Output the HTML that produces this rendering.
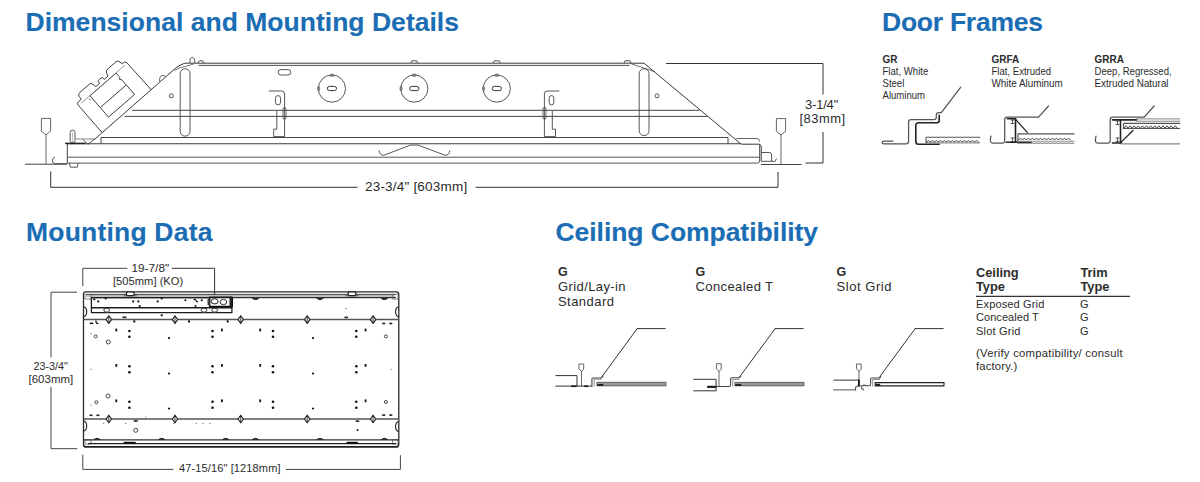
<!DOCTYPE html>
<html><head><meta charset="utf-8"><style>
html,body{margin:0;padding:0;background:#fff;width:1200px;height:482px;overflow:hidden}
svg{display:block}
</style></head><body>
<svg width="1200" height="482" viewBox="0 0 1200 482">
<text x="25.5" y="30.5" font-family="&quot;Liberation Sans&quot;, sans-serif" font-weight="bold" font-size="26.5" fill="#1b6db4" stroke="#1b6db4" stroke-width="0.12" letter-spacing="0.02">Dimensional and Mounting Details</text>
<text x="882" y="30.6" font-family="&quot;Liberation Sans&quot;, sans-serif" font-weight="bold" font-size="26.5" fill="#1b6db4" stroke="#1b6db4" stroke-width="0.12" letter-spacing="-0.25">Door Frames</text>
<text x="26" y="241" font-family="&quot;Liberation Sans&quot;, sans-serif" font-weight="bold" font-size="26.5" fill="#1b6db4" stroke="#1b6db4" stroke-width="0.12" letter-spacing="0.2">Mounting Data</text>
<text x="555.5" y="240.9" font-family="&quot;Liberation Sans&quot;, sans-serif" font-weight="bold" font-size="26.5" fill="#1b6db4" stroke="#1b6db4" stroke-width="0.12" letter-spacing="-0.05">Ceiling Compatibility</text>
<text x="882.5" y="62.8" font-family="&quot;Liberation Sans&quot;, sans-serif" font-weight="bold" font-size="10" fill="#2b2b2b" letter-spacing="0" text-anchor="start">GR</text>
<text transform="translate(882.5,74.5) scale(0.93,1)" font-family="&quot;Liberation Sans&quot;, sans-serif" font-weight="normal" font-size="10.3" fill="#2b2b2b" letter-spacing="0" text-anchor="start">Flat, White</text>
<text transform="translate(882.5,86.6) scale(0.93,1)" font-family="&quot;Liberation Sans&quot;, sans-serif" font-weight="normal" font-size="10.3" fill="#2b2b2b" letter-spacing="0" text-anchor="start">Steel</text>
<text transform="translate(882.5,98.5) scale(0.93,1)" font-family="&quot;Liberation Sans&quot;, sans-serif" font-weight="normal" font-size="10.3" fill="#2b2b2b" letter-spacing="0" text-anchor="start">Aluminum</text>
<text x="991.5" y="62.8" font-family="&quot;Liberation Sans&quot;, sans-serif" font-weight="bold" font-size="10" fill="#2b2b2b" letter-spacing="0" text-anchor="start">GRFA</text>
<text transform="translate(991.5,74.6) scale(0.93,1)" font-family="&quot;Liberation Sans&quot;, sans-serif" font-weight="normal" font-size="10.3" fill="#2b2b2b" letter-spacing="0" text-anchor="start">Flat, Extruded</text>
<text transform="translate(991.5,86.8) scale(0.96,1)" font-family="&quot;Liberation Sans&quot;, sans-serif" font-weight="normal" font-size="10.3" fill="#2b2b2b" letter-spacing="0" text-anchor="start">White Aluminum</text>
<text x="1094.5" y="62.8" font-family="&quot;Liberation Sans&quot;, sans-serif" font-weight="bold" font-size="10" fill="#2b2b2b" letter-spacing="0" text-anchor="start">GRRA</text>
<text transform="translate(1094.5,74.6) scale(0.93,1)" font-family="&quot;Liberation Sans&quot;, sans-serif" font-weight="normal" font-size="10.3" fill="#2b2b2b" letter-spacing="0" text-anchor="start">Deep, Regressed,</text>
<text transform="translate(1094.5,86.8) scale(0.96,1)" font-family="&quot;Liberation Sans&quot;, sans-serif" font-weight="normal" font-size="10.3" fill="#2b2b2b" letter-spacing="0" text-anchor="start">Extruded Natural</text>
<text x="558" y="275.6" font-family="&quot;Liberation Sans&quot;, sans-serif" font-weight="bold" font-size="12.5" fill="#2b2b2b" letter-spacing="0" text-anchor="start">G</text>
<text x="558" y="290.7" font-family="&quot;Liberation Sans&quot;, sans-serif" font-weight="normal" font-size="13" fill="#2b2b2b" letter-spacing="0.4" text-anchor="start">Grid/Lay-in</text>
<text x="558" y="306" font-family="&quot;Liberation Sans&quot;, sans-serif" font-weight="normal" font-size="13" fill="#2b2b2b" letter-spacing="0.45" text-anchor="start">Standard</text>
<text x="695.5" y="275.6" font-family="&quot;Liberation Sans&quot;, sans-serif" font-weight="bold" font-size="12.5" fill="#2b2b2b" letter-spacing="0" text-anchor="start">G</text>
<text x="695.5" y="290.7" font-family="&quot;Liberation Sans&quot;, sans-serif" font-weight="normal" font-size="13" fill="#2b2b2b" letter-spacing="0.4" text-anchor="start">Concealed T</text>
<text x="836.5" y="275.6" font-family="&quot;Liberation Sans&quot;, sans-serif" font-weight="bold" font-size="12.5" fill="#2b2b2b" letter-spacing="0" text-anchor="start">G</text>
<text x="836.5" y="290.7" font-family="&quot;Liberation Sans&quot;, sans-serif" font-weight="normal" font-size="13" fill="#2b2b2b" letter-spacing="0.55" text-anchor="start">Slot Grid</text>
<text x="976" y="276.6" font-family="&quot;Liberation Sans&quot;, sans-serif" font-weight="bold" font-size="12.8" fill="#2b2b2b" letter-spacing="0" text-anchor="start">Ceiling</text>
<text x="976" y="291" font-family="&quot;Liberation Sans&quot;, sans-serif" font-weight="bold" font-size="12.8" fill="#2b2b2b" letter-spacing="0" text-anchor="start">Type</text>
<text x="1080.5" y="276.6" font-family="&quot;Liberation Sans&quot;, sans-serif" font-weight="bold" font-size="12.8" fill="#2b2b2b" letter-spacing="0" text-anchor="start">Trim</text>
<text x="1080.5" y="291" font-family="&quot;Liberation Sans&quot;, sans-serif" font-weight="bold" font-size="12.8" fill="#2b2b2b" letter-spacing="0" text-anchor="start">Type</text>
<line x1="976" y1="296.3" x2="1130" y2="296.3" stroke="#333" stroke-width="1.3"/>
<text x="976" y="308.1" font-family="&quot;Liberation Sans&quot;, sans-serif" font-weight="normal" font-size="11" fill="#2b2b2b" letter-spacing="0.15" text-anchor="start">Exposed Grid</text>
<text x="976" y="321.4" font-family="&quot;Liberation Sans&quot;, sans-serif" font-weight="normal" font-size="11" fill="#2b2b2b" letter-spacing="0.05" text-anchor="start">Concealed T</text>
<text x="976" y="334.5" font-family="&quot;Liberation Sans&quot;, sans-serif" font-weight="normal" font-size="11" fill="#2b2b2b" letter-spacing="0.2" text-anchor="start">Slot Grid</text>
<text x="1080" y="308.1" font-family="&quot;Liberation Sans&quot;, sans-serif" font-weight="normal" font-size="11" fill="#2b2b2b" letter-spacing="0" text-anchor="start">G</text>
<text x="1080" y="321.4" font-family="&quot;Liberation Sans&quot;, sans-serif" font-weight="normal" font-size="11" fill="#2b2b2b" letter-spacing="0" text-anchor="start">G</text>
<text x="1080" y="334.5" font-family="&quot;Liberation Sans&quot;, sans-serif" font-weight="normal" font-size="11" fill="#2b2b2b" letter-spacing="0" text-anchor="start">G</text>
<text x="976" y="357" font-family="&quot;Liberation Sans&quot;, sans-serif" font-weight="normal" font-size="11.3" fill="#2b2b2b" letter-spacing="0.25" text-anchor="start">(Verify compatibility/ consult</text>
<text x="976" y="370.2" font-family="&quot;Liberation Sans&quot;, sans-serif" font-weight="normal" font-size="11.3" fill="#2b2b2b" letter-spacing="0.15" text-anchor="start">factory.)</text>
<text x="805" y="109.3" font-family="&quot;Liberation Sans&quot;, sans-serif" font-weight="normal" font-size="13" fill="#2b2b2b" letter-spacing="-0.2" text-anchor="start">3-1/4"</text>
<text x="799.5" y="123.3" font-family="&quot;Liberation Sans&quot;, sans-serif" font-weight="normal" font-size="13" fill="#2b2b2b" letter-spacing="0.45" text-anchor="start">[83mm]</text>
<text x="365" y="191" font-family="&quot;Liberation Sans&quot;, sans-serif" font-weight="normal" font-size="13.5" fill="#2b2b2b" letter-spacing="0.2" text-anchor="start">23-3/4" [603mm]</text>
<text x="131.5" y="272.1" font-family="&quot;Liberation Sans&quot;, sans-serif" font-weight="normal" font-size="11.8" fill="#2b2b2b" letter-spacing="0" text-anchor="start">19-7/8"</text>
<text x="113" y="285.4" font-family="&quot;Liberation Sans&quot;, sans-serif" font-weight="normal" font-size="11.2" fill="#2b2b2b" letter-spacing="0" text-anchor="start">[505mm] (KO)</text>
<text x="33.5" y="370.2" font-family="&quot;Liberation Sans&quot;, sans-serif" font-weight="normal" font-size="10.8" fill="#2b2b2b" letter-spacing="0" text-anchor="start">23-3/4"</text>
<text x="28.5" y="382.5" font-family="&quot;Liberation Sans&quot;, sans-serif" font-weight="normal" font-size="11.5" fill="#2b2b2b" letter-spacing="0" text-anchor="start">[603mm]</text>
<text x="179" y="472" font-family="&quot;Liberation Sans&quot;, sans-serif" font-weight="normal" font-size="11" fill="#2b2b2b" letter-spacing="0.13" text-anchor="start">47-15/16" [1218mm]</text>
<g stroke-linecap="butt" stroke-linejoin="round">
<line x1="25" y1="164.2" x2="67" y2="164.2" stroke="#444" stroke-width="1" />
<line x1="761" y1="164.5" x2="801.5" y2="164.5" stroke="#444" stroke-width="1" />
<path d="M41.4,118.4 H50.6 V131.20000000000002 L46,134.8 L41.4,131.20000000000002 Z" stroke="#555" stroke-width="0.9" fill="none" />
<line x1="46" y1="134.8" x2="46" y2="164" stroke="#555" stroke-width="0.9" />
<path d="M776.4,118.6 H785.6 V131.3 L781,134.9 L776.4,131.3 Z" stroke="#555" stroke-width="0.9" fill="none" />
<line x1="781" y1="134.9" x2="781" y2="164.5" stroke="#555" stroke-width="0.9" />
<path d="M67,163.6 H55 Q52,163.6 52.5,160 Q53,157.5 55,157" stroke="#444" stroke-width="0.9" fill="none" />
<path d="M761.2,161.3 H775 L776.5,158.5" stroke="#444" stroke-width="0.9" fill="none" />
<path d="M50.7,171.5 V187.3 H357.5" stroke="#333" stroke-width="1" fill="none" />
<path d="M475.5,187.3 H778 V172" stroke="#333" stroke-width="1" fill="none" />
<path d="M666,63.5 H823 V94.5" stroke="#333" stroke-width="1" fill="none" />
<path d="M823,132 V163 H805.5" stroke="#333" stroke-width="1" fill="none" />
<line x1="185" y1="63.2" x2="644" y2="63.2" stroke="#3a3a3a" stroke-width="1" />
<line x1="198.5" y1="65.4" x2="629.5" y2="65.4" stroke="#3a3a3a" stroke-width="0.9" />
<path d="M189.8,63 Q190,57 192.3,57.3 Q194.8,57.6 194.8,63" stroke="#444" stroke-width="0.9" fill="none" />
<path d="M198,63 Q199,60.3 201,60.5 Q203.5,60.7 204,63" stroke="#444" stroke-width="0.9" fill="none" />
<path d="M410.8,63 L411.8,60.8 H416.8 L417.8,63" stroke="#444" stroke-width="0.9" fill="none" />
<path d="M493.3,63 L494.3,60.8 H499.3 L500.3,63" stroke="#444" stroke-width="0.9" fill="none" />
<path d="M624.0,63 L625.0,60.8 H630.0 L631.0,63" stroke="#444" stroke-width="0.9" fill="none" />
<path d="M159.6,81.5 Q159.3,76.5 161.8,75.6 Q164.6,75.3 165.3,76.6" stroke="#444" stroke-width="0.9" fill="none" />
<path d="M93.8,140 L176,67.8 Q179.5,65 185,63.1" stroke="#3a3a3a" stroke-width="1" fill="none" />
<path d="M174.3,70.6 Q180,67 186,66.3 L194,63.8" stroke="#555" stroke-width="0.8" fill="none" />
<path d="M644,63.2 L741,144" stroke="#3a3a3a" stroke-width="1" fill="none" />
<path d="M630.5,63.5 L655,71.8" stroke="#444" stroke-width="0.8" fill="none" />
<rect x="180.2" y="68.7" width="9.8" height="67.5" rx="4.9" stroke="#444" stroke-width="0.9" fill="none"/>
<rect x="639.2" y="68.7" width="9.8" height="67.0" rx="4.9" stroke="#444" stroke-width="0.9" fill="none"/>
<circle cx="171.4" cy="95.8" r="2" stroke="#444" stroke-width="0.9" fill="none"/>
<circle cx="657" cy="95.8" r="2" stroke="#444" stroke-width="0.9" fill="none"/>
<rect x="278.2" y="69.6" width="12.6" height="5.4" rx="2.7" stroke="#444" stroke-width="0.9" fill="none"/>
<circle cx="331.9" cy="88.6" r="13.6" stroke="#444" stroke-width="0.9" fill="none"/>
<rect x="327.29999999999995" y="86.4" width="9.2" height="4.2" rx="2.1" stroke="#333" stroke-width="1" fill="none"/>
<ellipse cx="331.9" cy="75.2" rx="2.2" ry="1.2" fill="#888" stroke="#555" stroke-width="0.6"/>
<ellipse cx="318.59999999999997" cy="88.6" rx="1.1" ry="2.3" fill="#888" stroke="#555" stroke-width="0.6"/>
<circle cx="414.3" cy="88.6" r="13.6" stroke="#444" stroke-width="0.9" fill="none"/>
<rect x="409.7" y="86.4" width="9.2" height="4.2" rx="2.1" stroke="#333" stroke-width="1" fill="none"/>
<ellipse cx="414.3" cy="75.2" rx="2.2" ry="1.2" fill="#888" stroke="#555" stroke-width="0.6"/>
<ellipse cx="401.0" cy="88.6" rx="1.1" ry="2.3" fill="#888" stroke="#555" stroke-width="0.6"/>
<circle cx="496.8" cy="88.6" r="13.6" stroke="#444" stroke-width="0.9" fill="none"/>
<rect x="492.2" y="86.4" width="9.2" height="4.2" rx="2.1" stroke="#333" stroke-width="1" fill="none"/>
<ellipse cx="496.8" cy="75.2" rx="2.2" ry="1.2" fill="#888" stroke="#555" stroke-width="0.6"/>
<ellipse cx="483.5" cy="88.6" rx="1.1" ry="2.3" fill="#888" stroke="#555" stroke-width="0.6"/>
<line x1="132" y1="110.3" x2="699.5" y2="110.3" stroke="#444" stroke-width="1" />
<line x1="124.5" y1="116.4" x2="707" y2="116.4" stroke="#444" stroke-width="1" />
<path d="M268.7,91 H282 Q284.6,91 284.6,94 V136.6 H273.7 V129.2 H276.8 V111.1" stroke="#444" stroke-width="0.9" fill="none" />
<rect x="275.5" y="95.6" width="5" height="9.3" rx="2.5" stroke="#444" stroke-width="0.9" fill="none"/>
<rect x="283" y="107.4" width="3" height="11.8" rx="1.5" stroke="#444" stroke-width="0.8" fill="none"/>
<path d="M559.3,91 H547 Q544.4,91 544.4,94 V136.6 H555.5 V129.2 H552.3 V111.1" stroke="#444" stroke-width="0.9" fill="none" />
<rect x="549.2" y="95.6" width="4.6" height="9.3" rx="2.3" stroke="#444" stroke-width="0.9" fill="none"/>
<rect x="543" y="107.4" width="3" height="11.8" rx="1.5" stroke="#444" stroke-width="0.8" fill="none"/>
<path d="M101,143.7 V137.5 H728 V143.7" stroke="#444" stroke-width="1" fill="none" />
<line x1="67" y1="143.7" x2="741.5" y2="143.7" stroke="#3a3a3a" stroke-width="1.1" />
<path d="M736.3,138.5 H757 Q759.6,138.5 759.6,141.5" stroke="#555" stroke-width="0.9" fill="none" />
<path d="M741.5,144.2 H758.5 Q761.2,144.2 761.2,147 V161.3" stroke="#333" stroke-width="1" fill="none" />
<path d="M761.2,152.5 H769.5 Q771.6,152.5 771.6,155 V161.3" stroke="#444" stroke-width="0.9" fill="none" />
<line x1="67.3" y1="157.2" x2="759.6" y2="157.2" stroke="#555" stroke-width="1" />
<line x1="67.3" y1="163.1" x2="757.5" y2="163.1" stroke="#555" stroke-width="1" />
<path d="M757.5,163.1 Q759.6,163.1 759.6,161 V143.7" stroke="#555" stroke-width="1" fill="none" />
<line x1="67.3" y1="143.7" x2="67.3" y2="163.1" stroke="#444" stroke-width="1" />
<rect x="70.2" y="130.1" width="4.8" height="12.8" rx="2.4" stroke="#444" stroke-width="0.9" fill="none"/>
<line x1="72.6" y1="132" x2="72.6" y2="142.5" stroke="#888" stroke-width="0.6" />
<path d="M82.4,139 L88,144.4 L94.5,139" stroke="#444" stroke-width="0.9" fill="none" />
<line x1="75.5" y1="139" x2="94.5" y2="139" stroke="#666" stroke-width="0.8" />
<line x1="65.1" y1="143.4" x2="85.2" y2="143.4" stroke="#222" stroke-width="1.5" />
<path d="M69.3,163.1 L70.5,167.2 H77.2 L78.2,163.1" stroke="#444" stroke-width="0.9" fill="none" />
<path d="M379,150.5 Q379.8,155.6 384,155.2 L410.5,145.1 H418 L445,155.2 Q449.2,155.6 449.8,150.5" stroke="#444" stroke-width="0.9" fill="none" />
<g transform="translate(100.9,133.5) rotate(-41)">
<path d="M1.5,0 V-36.7 Q1.5,-38.7 3.5,-38.7 H7.5 L8,-42.5 Q8.5,-44.8 11,-44.8 H24 Q25.5,-44.8 26,-43 L27,-38.7 H32 V-41 Q32.5,-41.8 34,-41.8 H36.5 Q38,-41.8 38,-40.5 V-38.7 H43 L44,-42 Q45,-44.2 47,-44.2 H58.5 Q60.5,-44.2 61,-42.5 L61.8,-38.7 H63.5 Q65.5,-38.7 66,-36.5 L66.7,0" stroke="#3a3a3a" stroke-width="0.9" fill="none" />
<path d="M16.5,-7.4 V-35.6 H51 V-30 L49.5,-28.5 L51,-27 V-7.4 Z" stroke="#3a3a3a" stroke-width="0.9" fill="none" />
<line x1="17" y1="-20" x2="50.5" y2="-20" stroke="#3a3a3a" stroke-width="0.9" />
<line x1="5" y1="-35.8" x2="63" y2="-35.8" stroke="#777" stroke-width="0.7" />
<path d="M14,-34 Q13,-33 14.5,-32" stroke="#555" stroke-width="0.7" fill="none" />
</g>
</g>
<g stroke-linejoin="round">
<path d="M82.8,286 V268.3 H127.3" stroke="#444" stroke-width="1" fill="none" />
<path d="M171.8,268.3 H214.6 V312" stroke="#333" stroke-width="1" fill="none" />
<path d="M77,292.2 H51 V357.4" stroke="#444" stroke-width="1" fill="none" />
<path d="M51,387 V448.7 H77.3" stroke="#444" stroke-width="1" fill="none" />
<path d="M82.8,454.6 V469.4 H173.3" stroke="#444" stroke-width="1" fill="none" />
<path d="M286,469.4 H400.4 V455.2" stroke="#444" stroke-width="1" fill="none" />
<path d="M83.5,446.5 V294 Q83.5,291.9 86,291.9 H396 Q398.8,291.9 398.8,294.5 V444 Q398.8,446.8 396,446.8 H86 Q83.5,446.8 83.5,444" stroke="#2a2a2a" stroke-width="1.3" fill="none" />
<line x1="86" y1="294.4" x2="395.5" y2="294.4" stroke="#333" stroke-width="1" />
<rect x="86" y="294.9" width="309" height="2" fill="#bbb"/>
<line x1="91.4" y1="297.6" x2="396" y2="297.6" stroke="#333" stroke-width="1.1" />
<rect x="85" y="294.4" width="6" height="4.6" rx="0" stroke="#666" stroke-width="0.8" fill="none"/>
<rect x="392.5" y="294.4" width="5.5" height="4.6" rx="0" stroke="#666" stroke-width="0.8" fill="none"/>
<rect x="85" y="439.8" width="6" height="4.2" rx="0" stroke="#666" stroke-width="0.8" fill="none"/>
<rect x="392.5" y="439.8" width="5.5" height="4.2" rx="0" stroke="#666" stroke-width="0.8" fill="none"/>
<line x1="84" y1="439.9" x2="398.5" y2="439.9" stroke="#333" stroke-width="1.2" />
<line x1="88" y1="443.6" x2="396" y2="443.6" stroke="#222" stroke-width="1.2" />
<line x1="84" y1="446.8" x2="398.5" y2="446.8" stroke="#1e1e1e" stroke-width="1.6" />
<rect x="91.4" y="297.6" width="140.5" height="15" rx="0" stroke="#1e1e1e" stroke-width="1.3" fill="none"/>
<line x1="91.4" y1="307.7" x2="231.9" y2="307.7" stroke="#1e1e1e" stroke-width="1.5" />
<rect x="209.6" y="297.4" width="22.6" height="9.2" fill="#fff" stroke="#111" stroke-width="1.6"/>
<ellipse cx="214.6" cy="301.3" rx="3.5" ry="2.6" fill="none" stroke="#222" stroke-width="1"/>
<ellipse cx="223.4" cy="302" rx="3.4" ry="2.6" fill="none" stroke="#333" stroke-width="1"/>
<rect x="229.5" y="298" width="2.5" height="8" fill="#222"/>
<rect x="207.5" y="299" width="2" height="6" fill="#444"/>
<ellipse cx="106.7" cy="310.2" rx="2.9" ry="2" fill="#fff" stroke="#222" stroke-width="0.9"/>
<ellipse cx="204" cy="310.2" rx="2.9" ry="2" fill="#fff" stroke="#222" stroke-width="0.9"/>
<ellipse cx="214.6" cy="310.2" rx="2.9" ry="2" fill="#fff" stroke="#222" stroke-width="0.9"/>
<rect x="126.30000000000001" y="292" width="8" height="3.6" rx="1.8" fill="#fff" stroke="#111" stroke-width="1.1"/>
<line x1="123.80000000000001" y1="295.8" x2="136.8" y2="295.8" stroke="#333" stroke-width="0.8" />
<rect x="348" y="292" width="8" height="3.6" rx="1.8" fill="#fff" stroke="#111" stroke-width="1.1"/>
<line x1="345.5" y1="295.8" x2="358.5" y2="295.8" stroke="#333" stroke-width="0.8" />
<path d="M252.0,298 Q255.5,301.2 259.0,298" stroke="#1e1e1e" stroke-width="1" fill="#333" />
<path d="M316.5,298 Q320,301.2 323.5,298" stroke="#1e1e1e" stroke-width="1" fill="#333" />
<path d="M380.9,298 Q384.4,301.2 387.9,298" stroke="#1e1e1e" stroke-width="1" fill="#333" />
<path d="M93.5,439.9 Q97,436.8 100.5,439.9" stroke="#1e1e1e" stroke-width="1" fill="#333" />
<path d="M158.2,439.9 Q161.7,436.8 165.2,439.9" stroke="#1e1e1e" stroke-width="1" fill="#333" />
<path d="M222.2,439.9 Q225.7,436.8 229.2,439.9" stroke="#1e1e1e" stroke-width="1" fill="#333" />
<path d="M252.0,439.9 Q255.5,436.8 259.0,439.9" stroke="#1e1e1e" stroke-width="1" fill="#333" />
<path d="M316.5,439.9 Q320,436.8 323.5,439.9" stroke="#1e1e1e" stroke-width="1" fill="#333" />
<path d="M380.9,439.9 Q384.4,436.8 387.9,439.9" stroke="#1e1e1e" stroke-width="1" fill="#333" />
<rect x="123.7" y="441.8" width="12" height="2.2" fill="#111"/>
<rect x="346.5" y="441.8" width="11.3" height="2.2" fill="#111"/>
<path d="M83.5,306.8 Q86.7,307.3 86.7,311.8 Q86.7,316.3 83.5,316.8" stroke="#1e1e1e" stroke-width="1.1" fill="none" />
<path d="M83.5,421 Q86.7,421.5 86.7,426 Q86.7,430.5 83.5,431" stroke="#1e1e1e" stroke-width="1.1" fill="none" />
<path d="M398.8,306.8 Q395.6,307.3 395.6,311.8 Q395.6,316.3 398.8,316.8" stroke="#1e1e1e" stroke-width="1.1" fill="none" />
<path d="M398.8,421.5 Q395.6,422.0 395.6,426.5 Q395.6,431.0 398.8,431.5" stroke="#1e1e1e" stroke-width="1.1" fill="none" />
<line x1="84" y1="319.6" x2="398.5" y2="319.6" stroke="#555" stroke-width="1.5" />
<path d="M108.8,315.8 L111.5,319.6 L108.8,323.40000000000003 L106.1,319.6 Z" stroke="#1e1e1e" stroke-width="1.1" fill="#eee" />
<line x1="108.8" y1="315.8" x2="108.8" y2="323.40000000000003" stroke="#222" stroke-width="0.8" />
<path d="M175,315.8 L177.7,319.6 L175,323.40000000000003 L172.3,319.6 Z" stroke="#1e1e1e" stroke-width="1.1" fill="#eee" />
<line x1="175" y1="315.8" x2="175" y2="323.40000000000003" stroke="#222" stroke-width="0.8" />
<path d="M240.7,315.8 L243.39999999999998,319.6 L240.7,323.40000000000003 L238.0,319.6 Z" stroke="#1e1e1e" stroke-width="1.1" fill="#eee" />
<line x1="240.7" y1="315.8" x2="240.7" y2="323.40000000000003" stroke="#222" stroke-width="0.8" />
<path d="M307.2,315.8 L309.9,319.6 L307.2,323.40000000000003 L304.5,319.6 Z" stroke="#1e1e1e" stroke-width="1.1" fill="#eee" />
<line x1="307.2" y1="315.8" x2="307.2" y2="323.40000000000003" stroke="#222" stroke-width="0.8" />
<path d="M373.1,315.8 L375.8,319.6 L373.1,323.40000000000003 L370.40000000000003,319.6 Z" stroke="#1e1e1e" stroke-width="1.1" fill="#eee" />
<line x1="373.1" y1="315.8" x2="373.1" y2="323.40000000000003" stroke="#222" stroke-width="0.8" />
<line x1="84" y1="419" x2="398.5" y2="419" stroke="#555" stroke-width="1.5" />
<path d="M108.8,415.2 L111.5,419 L108.8,422.8 L106.1,419 Z" stroke="#1e1e1e" stroke-width="1.1" fill="#eee" />
<line x1="108.8" y1="415.2" x2="108.8" y2="422.8" stroke="#222" stroke-width="0.8" />
<path d="M175,415.2 L177.7,419 L175,422.8 L172.3,419 Z" stroke="#1e1e1e" stroke-width="1.1" fill="#eee" />
<line x1="175" y1="415.2" x2="175" y2="422.8" stroke="#222" stroke-width="0.8" />
<path d="M240.7,415.2 L243.39999999999998,419 L240.7,422.8 L238.0,419 Z" stroke="#1e1e1e" stroke-width="1.1" fill="#eee" />
<line x1="240.7" y1="415.2" x2="240.7" y2="422.8" stroke="#222" stroke-width="0.8" />
<path d="M307.2,415.2 L309.9,419 L307.2,422.8 L304.5,419 Z" stroke="#1e1e1e" stroke-width="1.1" fill="#eee" />
<line x1="307.2" y1="415.2" x2="307.2" y2="422.8" stroke="#222" stroke-width="0.8" />
<path d="M373.1,415.2 L375.8,419 L373.1,422.8 L370.40000000000003,419 Z" stroke="#1e1e1e" stroke-width="1.1" fill="#eee" />
<line x1="373.1" y1="415.2" x2="373.1" y2="422.8" stroke="#222" stroke-width="0.8" />
<circle cx="94.3" cy="299.4" r="1.05" fill="#111"/>
<circle cx="98.2" cy="301.4" r="1.05" fill="#111"/>
<circle cx="105.7" cy="298.4" r="1.05" fill="#111"/>
<circle cx="133.2" cy="301.4" r="1.05" fill="#111"/>
<circle cx="138.3" cy="301.4" r="1.05" fill="#111"/>
<circle cx="139.7" cy="306" r="1.05" fill="#111"/>
<circle cx="157.7" cy="301.4" r="1.05" fill="#111"/>
<circle cx="161.7" cy="298.4" r="1.05" fill="#111"/>
<circle cx="185.4" cy="300.2" r="1.05" fill="#111"/>
<circle cx="201.7" cy="300.2" r="1.05" fill="#111"/>
<circle cx="195.5" cy="306" r="1.05" fill="#111"/>
<path d="M193.5,299.5 Q195.5,299 196,300.5 Q196.5,302 198,301.8" stroke="#111" stroke-width="1.1" fill="none" />
<circle cx="161.7" cy="315.3" r="1.15" fill="#111"/>
<rect x="122.5" y="316.5" width="4" height="1.6" fill="#222"/>
<rect x="344.45" y="316.59999999999997" width="3.5" height="1.6" fill="#222"/>
<circle cx="346.2" cy="308.7" r="0.6" fill="#555"/>
<rect x="89.75" y="322.5" width="3.5" height="1.6" fill="#222"/>
<path d="M96,320.5 Q95.5,323.5 98.5,323.5" stroke="#111" stroke-width="1.2" fill="none" />
<circle cx="134.3" cy="321.5" r="1.15" fill="#111"/>
<circle cx="189" cy="321.5" r="1.15" fill="#111"/>
<circle cx="227.7" cy="321.5" r="1.15" fill="#111"/>
<rect x="382.2" y="322.7" width="3" height="1.6" fill="#222"/>
<rect x="389.3" y="322.7" width="3" height="1.6" fill="#222"/>
<rect x="115.39999999999999" y="328.6" width="1.8" height="2.8" fill="#111"/>
<rect x="221.0" y="328.6" width="1.8" height="2.8" fill="#111"/>
<rect x="259.3" y="328.6" width="1.8" height="2.8" fill="#111"/>
<rect x="364.70000000000005" y="328.6" width="1.8" height="2.8" fill="#111"/>
<circle cx="129.4" cy="331" r="1.3" fill="#111"/>
<circle cx="129.4" cy="336.8" r="1.3" fill="#111"/>
<circle cx="212.5" cy="331" r="1.3" fill="#111"/>
<circle cx="212.5" cy="336.8" r="1.3" fill="#111"/>
<circle cx="273" cy="331" r="1.3" fill="#111"/>
<circle cx="273" cy="336.8" r="1.3" fill="#111"/>
<circle cx="356.3" cy="331" r="1.3" fill="#111"/>
<circle cx="356.3" cy="336.8" r="1.3" fill="#111"/>
<circle cx="169" cy="338.1" r="1.1" fill="#111"/>
<circle cx="313" cy="338.1" r="1.1" fill="#111"/>
<rect x="115.39999999999999" y="364.0" width="1.8" height="2.8" fill="#111"/>
<rect x="221.0" y="364.0" width="1.8" height="2.8" fill="#111"/>
<rect x="259.3" y="364.0" width="1.8" height="2.8" fill="#111"/>
<rect x="364.70000000000005" y="364.0" width="1.8" height="2.8" fill="#111"/>
<circle cx="129.4" cy="366.3" r="1.3" fill="#111"/>
<circle cx="129.4" cy="372.3" r="1.3" fill="#111"/>
<circle cx="212.5" cy="366.3" r="1.3" fill="#111"/>
<circle cx="212.5" cy="372.3" r="1.3" fill="#111"/>
<circle cx="273" cy="366.3" r="1.3" fill="#111"/>
<circle cx="273" cy="372.3" r="1.3" fill="#111"/>
<circle cx="356.3" cy="366.3" r="1.3" fill="#111"/>
<circle cx="356.3" cy="372.3" r="1.3" fill="#111"/>
<circle cx="169" cy="373.5" r="1.1" fill="#111"/>
<circle cx="313" cy="373.5" r="1.1" fill="#111"/>
<rect x="115.39999999999999" y="399.40000000000003" width="1.8" height="2.8" fill="#111"/>
<rect x="221.0" y="399.40000000000003" width="1.8" height="2.8" fill="#111"/>
<rect x="259.3" y="399.40000000000003" width="1.8" height="2.8" fill="#111"/>
<rect x="364.70000000000005" y="399.40000000000003" width="1.8" height="2.8" fill="#111"/>
<circle cx="129.4" cy="401.8" r="1.3" fill="#111"/>
<circle cx="129.4" cy="407.8" r="1.3" fill="#111"/>
<circle cx="212.5" cy="401.8" r="1.3" fill="#111"/>
<circle cx="212.5" cy="407.8" r="1.3" fill="#111"/>
<circle cx="273" cy="401.8" r="1.3" fill="#111"/>
<circle cx="273" cy="407.8" r="1.3" fill="#111"/>
<circle cx="356.3" cy="401.8" r="1.3" fill="#111"/>
<circle cx="356.3" cy="407.8" r="1.3" fill="#111"/>
<circle cx="169" cy="408.5" r="1.1" fill="#111"/>
<circle cx="313" cy="408.5" r="1.1" fill="#111"/>
<circle cx="95.7" cy="336.4" r="1.5" stroke="#333" stroke-width="0.9" fill="none"/>
<circle cx="91" cy="333.7" r="0.6" fill="#555"/>
<circle cx="108.3" cy="342" r="2" stroke="#333" stroke-width="0.9" fill="none"/>
<circle cx="385.9" cy="336.4" r="1.5" stroke="#333" stroke-width="0.9" fill="none"/>
<circle cx="91" cy="369.3" r="0.6" fill="#555"/>
<circle cx="391.1" cy="369.5" r="0.6" fill="#555"/>
<circle cx="108.1" cy="396" r="2" stroke="#333" stroke-width="0.9" fill="none"/>
<circle cx="91" cy="405" r="0.6" fill="#555"/>
<circle cx="96.3" cy="402.3" r="1.5" stroke="#333" stroke-width="0.9" fill="none"/>
<circle cx="385.9" cy="402" r="1.5" stroke="#333" stroke-width="0.9" fill="none"/>
<rect x="89.5" y="414.5" width="3" height="1.6" fill="#222"/>
<rect x="96.4" y="414.5" width="3" height="1.6" fill="#222"/>
<rect x="382.2" y="414.3" width="3" height="1.6" fill="#222"/>
<rect x="389.3" y="414.3" width="3" height="1.6" fill="#222"/>
<circle cx="145.7" cy="417" r="0.6" fill="#555"/>
<rect x="133.7" y="420.2" width="4" height="1.6" fill="#222"/>
<circle cx="135.7" cy="430.3" r="2" stroke="#333" stroke-width="0.9" fill="none"/>
<rect x="355.75" y="420.4" width="3.5" height="1.6" fill="#222"/>
<circle cx="357.5" cy="430.1" r="1" fill="#111"/>
<circle cx="103.7" cy="423.3" r="0.6" fill="#555"/>
<circle cx="125.7" cy="423.3" r="0.6" fill="#555"/>
<circle cx="173.7" cy="423.3" r="0.6" fill="#555"/>
<circle cx="196.3" cy="423.3" r="0.6" fill="#555"/>
<circle cx="203" cy="423.3" r="0.6" fill="#555"/>
<circle cx="209.9" cy="423.3" r="0.6" fill="#555"/>
</g>
<g stroke-linejoin="round" stroke-linecap="round">
<path d="M892.9,141.2 H884 Q882.2,141.2 882.2,142.6 Q882.2,143.9 884,143.9 H906 Q908.6,143.9 908.6,141.3 V121.8 Q908.6,119.5 911,119.5 H934 Q936.3,119.5 936.3,117.5 V115.2 Q936.3,112.6 939,112.6 H941.3 L960.8,87.2" stroke="#555" stroke-width="1.25" fill="none" />
<path d="M939.2,115.3 V120.5 Q939.2,122.7 937,122.7 H918.5 Q915.8,122.7 915.8,125.5 V141.5 Q915.8,144.2 918.5,144.2 H939.2" stroke="#222" stroke-width="1.6" fill="none" />
<path d="M926.1,142.8 V137.2 H979.7" stroke="#555" stroke-width="1.1" fill="none" />
<line x1="926.1" y1="142.9" x2="979.7" y2="142.9" stroke="#666" stroke-width="0.9" />
<path d="M926.5,142.2 q2.0,-3.2 4.0,0 q2.0,-3.2 4.0,0 q2.0,-3.2 4.0,0 q2.0,-3.2 4.0,0 q2.0,-3.2 4.0,0 q2.0,-3.2 4.0,0 q2.0,-3.2 4.0,0 q2.0,-3.2 4.0,0 q2.0,-3.2 4.0,0 q2.0,-3.2 4.0,0 q2.0,-3.2 4.0,0 q2.0,-3.2 4.0,0 q2.0,-3.2 4.0,0" stroke="#333" stroke-width="0.9" fill="none" />
<path d="M990.9,136.1 Q990,140 990.6,141.7 Q991.2,143 992.8,143 H1002.5 Q1004.7,143 1004.7,140.8 V119.6 Q1004.7,117.2 1007,117.2 H1038.5 L1048.5,106" stroke="#555" stroke-width="1.25" fill="none" />
<path d="M1007.4,118.7 H1015.5 V142.3" stroke="#222" stroke-width="1.6" fill="none" />
<path d="M1006.2,142.3 H1031.1" stroke="#222" stroke-width="1.6" fill="none" />
<line x1="1015.5" y1="119.3" x2="1027.3" y2="132.4" stroke="#222" stroke-width="1.3" />
<path d="M1011,120 H1014 M1012.5,120 V123.5 M1011,123.5 H1014 M1011,138 H1014 M1012.5,138 V141.5 M1011,141.5 H1014" stroke="#333" stroke-width="0.8" fill="none" />
<path d="M1018,143 V133.9 H1074" stroke="#555" stroke-width="1.1" fill="none" />
<line x1="1018" y1="141.3" x2="1074" y2="141.3" stroke="#777" stroke-width="0.8" />
<line x1="1018" y1="143.2" x2="1074" y2="143.2" stroke="#666" stroke-width="0.9" />
<path d="M1018.5,140.0 q2.0,-3.2 4.0,0 q2.0,-3.2 4.0,0 q2.0,-3.2 4.0,0 q2.0,-3.2 4.0,0 q2.0,-3.2 4.0,0 q2.0,-3.2 4.0,0 q2.0,-3.2 4.0,0 q2.0,-3.2 4.0,0 q2.0,-3.2 4.0,0 q2.0,-3.2 4.0,0 q2.0,-3.2 4.0,0 q2.0,-3.2 4.0,0 q2.0,-3.2 4.0,0" stroke="#333" stroke-width="0.9" fill="none" />
<path d="M1096,136.1 Q1095,140 1095.6,141.7 Q1096.2,143 1097.8,143 H1108 Q1110.2,143 1110.2,140.8 V119.6 Q1110.2,117.2 1112.5,117.2 H1144.2 L1154.1,106" stroke="#555" stroke-width="1.25" fill="none" />
<path d="M1112.4,119.9 H1136.7" stroke="#222" stroke-width="1.6" fill="none" />
<line x1="1136.7" y1="118.9" x2="1179.7" y2="118.9" stroke="#777" stroke-width="0.9" />
<line x1="1136.7" y1="121.2" x2="1179.7" y2="121.2" stroke="#777" stroke-width="0.9" />
<path d="M1120.5,119.9 V143" stroke="#222" stroke-width="1.6" fill="none" />
<path d="M1112.4,143 H1121.8" stroke="#222" stroke-width="1.6" fill="none" />
<line x1="1121.1" y1="142.1" x2="1133" y2="130.5" stroke="#222" stroke-width="1.3" />
<path d="M1116,121 H1119 M1117.5,121 V124.5 M1116,124.5 H1119 M1116,138 H1119 M1117.5,138 V141.5 M1116,141.5 H1119" stroke="#333" stroke-width="0.8" fill="none" />
<path d="M1123.6,128.4 V123.4 H1179.7" stroke="#555" stroke-width="1.1" fill="none" />
<line x1="1123.6" y1="128.4" x2="1179.7" y2="128.4" stroke="#444" stroke-width="1" />
<path d="M1124,128.2 l2.05,-2.4 l2.05,2.4 l2.05,-2.4 l2.05,2.4 l2.05,-2.4 l2.05,2.4 l2.05,-2.4 l2.05,2.4 l2.05,-2.4 l2.05,2.4 l2.05,-2.4 l2.05,2.4 l2.05,-2.4 l2.05,2.4 l2.05,-2.4 l2.05,2.4 l2.05,-2.4 l2.05,2.4 l2.05,-2.4 l2.05,2.4 l2.05,-2.4 l2.05,2.4 l2.05,-2.4 l2.05,2.4 l2.05,-2.4 l2.05,2.4" stroke="#333" stroke-width="0.9" fill="none" />
<line x1="1121.1" y1="143.8" x2="1179.7" y2="143.8" stroke="#888" stroke-width="1.2" />
<line x1="637.2" y1="328.6" x2="665.2" y2="328.6" stroke="#333" stroke-width="1" />
<path d="M637.2,328.6 L603,375.3 L601.5,377.8" stroke="#333" stroke-width="1" fill="none" />
<path d="M555.8,375.6 H577 V386.1" stroke="#333" stroke-width="1" fill="none" />
<line x1="555.8" y1="386.1" x2="591.9" y2="386.1" stroke="#333" stroke-width="1" />
<rect x="571.2" y="385.3" width="5.4" height="1.8" fill="#222"/>
<rect x="584.2" y="385.3" width="3.9" height="1.8" fill="#222"/>
<path d="M579.3,364 H583.7 V369.0 L581.5,371.5 L579.3,369.0 Z" stroke="#555" stroke-width="0.9" fill="none" />
<line x1="581.5" y1="371.5" x2="581.5" y2="386.1" stroke="#555" stroke-width="0.9" />
<path d="M591.9,386.1 V379 Q591.9,378 593,378 H601.1 L603,376" stroke="#444" stroke-width="1.1" fill="none" />
<path d="M594.2,386.1 V379.2 H601" stroke="#777" stroke-width="0.8" fill="none" />
<rect x="597.3" y="382.3" width="68.70000000000005" height="3.5" fill="#999" stroke="#555" stroke-width="0.9"/>
<rect x="597.3" y="384" width="6" height="2" fill="#222"/>
<line x1="775.2" y1="328.6" x2="803.2" y2="328.6" stroke="#333" stroke-width="1" />
<path d="M775.2,328.6 L740.8,375.3 L739.5,377.8" stroke="#333" stroke-width="1" fill="none" />
<path d="M693.7,379.3 H716.1 V390.8 H693.7" stroke="#333" stroke-width="1" fill="none" />
<rect x="707" y="385.7" width="9.5" height="2.2" rx="1" fill="#222"/>
<path d="M716.8,363.7 H721.2 V369.1 L719,371.6 L716.8,369.1 Z" stroke="#555" stroke-width="0.9" fill="none" />
<line x1="719" y1="371.6" x2="719" y2="386.5" stroke="#555" stroke-width="0.9" />
<path d="M716.5,386.5 H729 Q730.6,386.5 730.6,384.8 V379 Q730.6,377.8 732,377.8 H739 L740.8,376" stroke="#444" stroke-width="1.1" fill="none" />
<path d="M732.7,386.3 V379.4 H739" stroke="#777" stroke-width="0.8" fill="none" />
<rect x="735.2" y="382.4" width="68.79999999999995" height="3.400000000000034" fill="#999" stroke="#555" stroke-width="0.9"/>
<rect x="735.2" y="384" width="6" height="2" fill="#222"/>
<line x1="915.2" y1="328.6" x2="943.2" y2="328.6" stroke="#333" stroke-width="1" />
<path d="M915.2,328.6 L880.8,375.3 L879.5,377.8" stroke="#333" stroke-width="1" fill="none" />
<line x1="833.7" y1="380.1" x2="858.2" y2="380.1" stroke="#333" stroke-width="1" />
<line x1="833.7" y1="389.9" x2="855.7" y2="389.9" stroke="#777" stroke-width="1.2" />
<path d="M856.8,364 H861.2 V369.1 L859,371.6 L856.8,369.1 Z" stroke="#555" stroke-width="0.9" fill="none" />
<line x1="859" y1="371.6" x2="859" y2="386" stroke="#555" stroke-width="0.9" />
<rect x="858" y="379.5" width="1.8" height="7" fill="#111"/>
<path d="M855.5,389.9 V387 H857 V385.8 H861.5 V388.8 H863.2 V390.3" stroke="#444" stroke-width="0.9" fill="none" />
<path d="M862.5,385.8 Q864,384.5 866,385.8 H869 Q870.6,385.8 870.6,384 V379.3 Q870.6,378 872,378 H879.8 L880.8,376" stroke="#444" stroke-width="1.1" fill="none" />
<path d="M872.7,386 V379.5 H879.5" stroke="#777" stroke-width="0.8" fill="none" />
<rect x="875.2" y="382.6" width="68.8" height="3.3" fill="#fff" stroke="#222" stroke-width="1.1"/>
<rect x="875.2" y="383.8" width="5" height="2.2" fill="#222"/>
</g>
</svg></body></html>
